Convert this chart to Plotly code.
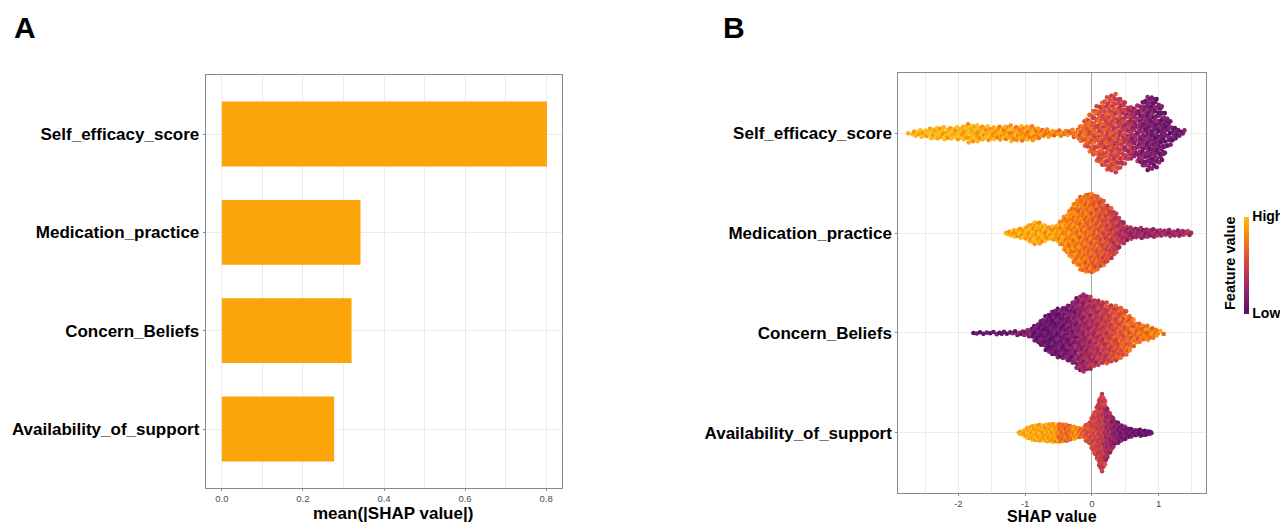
import numpy as np
import plotly.graph_objects as go

# ---------------- data ----------------
features = ["Availability_of_support", "Concern_Beliefs", "Medication_practice", "Self_efficacy_score"]  # bottom -> top
mean_abs_shap = [0.277, 0.320, 0.342, 0.802]

# Beeswarm: SHAP values summarised as 0.1-wide bins (first bin's left edge, point counts, mean feature value 0..1)
self_start = -2.8
self_counts = [1, 4, 5, 6, 8, 8, 8, 8, 9, 12, 12, 10, 9, 9, 9, 10, 10, 10, 10, 9,
               6, 5, 4, 4, 4, 5, 13, 23, 33, 41, 49, 51, 44, 35, 33, 41, 49, 46, 36, 18, 8, 4]
self_feat = [0.99, 0.99, 0.99, 0.99, 0.98, 0.98, 0.98, 0.97, 0.97, 0.96, 0.95, 0.94, 0.92,
             0.90, 0.88, 0.87, 0.86, 0.85, 0.84,
             0.83, 0.81, 0.80, 0.78, 0.76,
             0.74, 0.72, 0.68, 0.64,
             0.60, 0.57, 0.55, 0.52,
             0.46, 0.38, 0.28,
             0.20, 0.16, 0.13, 0.12, 0.10, 0.08, 0.06]

med_start = -1.3
med_counts = [4, 8, 10, 15, 23, 19, 13, 13, 27, 42, 61, 73, 77, 75, 65, 54, 42, 23,
              13, 10, 10, 8, 8, 6, 6, 6, 6, 4]
med_feat = [0.96, 0.95, 0.94, 0.93, 0.93, 0.92, 0.91, 0.89,
            0.85, 0.81, 0.78, 0.75, 0.71, 0.66, 0.60, 0.54, 0.46, 0.38,
            0.32, 0.30, 0.28, 0.28, 0.28, 0.30, 0.30, 0.30, 0.32, 0.32]

con_start = -1.8
con_counts = [2, 2, 2, 2, 3, 2, 3, 4, 6, 13, 22, 32, 38, 41, 45, 54, 64, 60,
              54, 51, 48, 45, 41, 32, 19, 14, 11, 8, 2]
con_feat = [0.06, 0.06, 0.06, 0.06, 0.08, 0.08, 0.10, 0.20,
            0.18, 0.10, 0.08, 0.08,
            0.10, 0.12, 0.15, 0.20, 0.27, 0.33,
            0.38, 0.44, 0.50, 0.57, 0.62,
            0.67, 0.70, 0.72, 0.74, 0.76, 0.78]

av_start = -1.1
av_counts = [7, 22, 29, 29, 33, 33, 33, 29, 22, 15, 37, 81, 147, 81, 44, 29, 18, 11, 11, 7]
av_feat = [0.96, 0.95, 0.94, 0.93, 0.91, 0.89, 0.72, 0.70, 0.82, 0.70,
           0.58, 0.52, 0.46, 0.32, 0.22, 0.15, 0.12, 0.10, 0.08, 0.08]

x_ticks_a = [0.0, 0.2, 0.4, 0.6, 0.8]
x_ticks_b = [-2, -1, 0, 1]

# ---------------- style ----------------
OFF = 8                      # page body margin of the browser
W, H = 1288 - OFF, 526 - OFF
FONT = "Liberation Sans, Arial, sans-serif"
GRID = "#ebebeb"
BORDER = "#8a8a8a"
BAR_COLOR = "#fca50a"
# inferno, begin 0.25 -> end 0.85
infer = ["#57106e", "#6a176e", "#7e1e6c", "#932667", "#a82e5f", "#bc3754", "#cc4248",
         "#dd513a", "#ea632a", "#f37819", "#f98e09", "#fca50a", "#fbbe24"]
colorscale = [[i / (len(infer) - 1), c] for i, c in enumerate(infer)]


def fx(p):
    return (p - OFF) / W


def fy(p):
    return 1 - (p - OFF) / H


def vdc(n, base):
    v, denom = 0.0, 1.0
    while n:
        n, r = divmod(n, base)
        denom *= base
        v += r / denom
    return v


def bee_layout(start, counts, feat, row, width=0.4, bw=0.1):
    """Quasi-random beeswarm placement of binned points (like position_bee)."""
    counts = np.asarray(counts, float)
    centers = start + bw / 2 + bw * np.arange(len(counts))
    xs, fs = [], []
    for c0, n, f in zip(centers, counts.astype(int), feat):
        for i in range(n):
            xs.append(c0 - bw / 2 + (i + 0.5) / n * bw)
            fs.append(f)
    xs = np.array(xs)
    env = np.interp(xs, centers, counts) / counts.max() * width
    k = np.arange(len(xs)) + 1
    u = np.array([2 * vdc(int(j), 2) - 1 for j in k])
    tex = np.array([vdc(int(j), 3) - 0.5 for j in k])
    ys = row + env * u
    cs = np.clip(np.array(fs) + 0.3 * tex, 0, 1)
    return xs, ys, cs


fig = go.Figure()

# Panel A: bars
fig.add_trace(go.Bar(
    x=mean_abs_shap, y=features, orientation="h", width=0.66,
    marker=dict(color=BAR_COLOR, line=dict(width=0)),
    xaxis="x", yaxis="y", showlegend=False, hoverinfo="skip"))

# Panel B: beeswarm
swarm_data = [
    (av_start, av_counts, av_feat),
    (con_start, con_counts, con_feat),
    (med_start, med_counts, med_feat),
    (self_start, self_counts, self_feat),
]
for row, (st, cnt, ft) in enumerate(swarm_data):
    xs, ys, cs = bee_layout(st, cnt, ft, row)
    fig.add_trace(go.Scatter(
        x=xs, y=ys, mode="markers", xaxis="x2", yaxis="y2",
        marker=dict(size=4.6, color=cs, coloraxis="coloraxis", line=dict(width=0)),
        showlegend=False, hoverinfo="skip"))

common_axis = dict(showline=True, mirror=True, linecolor=BORDER, linewidth=1,
                   ticks="outside", ticklen=2, tickcolor=BORDER, tickwidth=1,
                   showgrid=True, gridcolor=GRID, gridwidth=1, fixedrange=True)
ytick_font = dict(family=FONT, size=17, color="black", weight="bold")
xtick_font = dict(family=FONT, size=9.5, color="#4d4d4d")

fig.update_layout(
    width=W, height=H, margin=dict(l=0, r=0, t=0, b=0),
    paper_bgcolor="white", plot_bgcolor="white",
    font=dict(family=FONT),
    xaxis=dict(domain=[fx(205.7), fx(562.3)], range=[-0.04, 0.84], anchor="y",
               tickmode="array", tickvals=x_ticks_a, ticktext=[f"{v:.1f}" for v in x_ticks_a],
               minor=dict(tickvals=[0.1, 0.3, 0.5, 0.7], showgrid=True, gridcolor=GRID, gridwidth=0.6, ticks=""),
               zeroline=False, tickfont=xtick_font, **common_axis),
    yaxis=dict(domain=[fy(488), fy(75)], type="category", categoryorder="array",
               categoryarray=features, range=[-0.6, 3.6], anchor="x",
               tickfont=ytick_font, **common_axis),
    xaxis2=dict(domain=[fx(898.3), fx(1206)], range=[-2.90, 1.71], anchor="y2",
                tickmode="array", tickvals=x_ticks_b, ticktext=[str(v) for v in x_ticks_b],
                minor=dict(tickvals=[-2.5, -1.5, -0.5, 0.5, 1.5], showgrid=True, gridcolor=GRID, gridwidth=0.6, ticks=""),
                zeroline=True, zerolinecolor="#a9a9a9", zerolinewidth=1.2,
                tickfont=xtick_font, **common_axis),
    yaxis2=dict(domain=[fy(492.7), fy(73.3)], range=[-0.6, 3.6], anchor="x2",
                tickmode="array", tickvals=[0, 1, 2, 3], ticktext=features, zeroline=False,
                tickfont=ytick_font, **common_axis),
    coloraxis=dict(colorscale=colorscale, cmin=0, cmax=1,
                   colorbar=dict(x=fx(1244), xanchor="left", xpad=0, ypad=0,
                                 y=fy(265), yanchor="middle", len=96.6 / H, lenmode="fraction",
                                 thickness=5, thicknessmode="pixels", outlinewidth=0,
                                 tickmode="array", tickvals=[0, 1], ticktext=["Low", "High"],
                                 ticks="", tickfont=dict(family=FONT, size=14, color="black", weight="bold"))),
)

annotations = [
    dict(text="A", x=fx(12), y=fy(27), xanchor="left", yanchor="middle",
         font=dict(family=FONT, size=30, color="black", weight="bold")),
    dict(text="B", x=fx(721), y=fy(27), xanchor="left", yanchor="middle",
         font=dict(family=FONT, size=30, color="black", weight="bold")),
    dict(text="mean(|SHAP value|)", x=fx(393), y=fy(513), xanchor="center", yanchor="middle",
         font=dict(family=FONT, size=17, color="black", weight="bold")),
    dict(text="SHAP value", x=fx(1052), y=fy(526), xanchor="center", yanchor="bottom",
         borderpad=0,
         font=dict(family=FONT, size=16, color="black", weight="bold")),
    dict(text="Feature value", x=fx(1230), y=fy(263), xanchor="center", yanchor="middle",
         textangle=-90, font=dict(family=FONT, size=14.5, color="black", weight="bold")),
]
for a in annotations:
    a.update(xref="paper", yref="paper", showarrow=False)
fig.update_layout(annotations=annotations)

fig.write_html("out.html", config={"displayModeBar": False})
